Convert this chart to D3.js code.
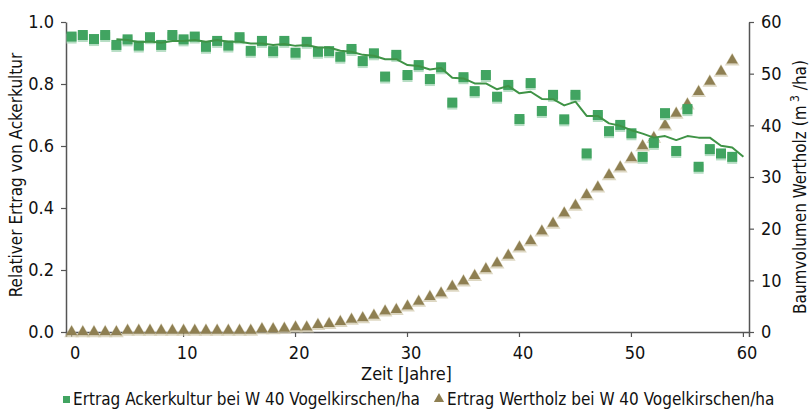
<!DOCTYPE html>
<html>
<head>
<meta charset="utf-8">
<script src="https://cdn.jsdelivr.net/npm/d3@7"></script>
<style>
  body { margin: 0; background: #fff; }
  svg text { font-family: "Liberation Sans Narrow", "DejaVu Sans Condensed", "Arial Narrow", sans-serif; fill: #111; }
</style>
</head>
<body>
<div id="chart"></div>
<script>
// Ertrag Ackerkultur (relativ), Jahre 0..59
const ertragAcker = [0.953, 0.958, 0.945, 0.958, 0.926, 0.944, 0.924, 0.951, 0.926, 0.958,
  0.944, 0.953, 0.920, 0.939, 0.924, 0.951, 0.907, 0.939, 0.906, 0.939,
  0.901, 0.936, 0.904, 0.906, 0.888, 0.913, 0.874, 0.899, 0.824, 0.894,
  0.829, 0.861, 0.816, 0.854, 0.740, 0.822, 0.777, 0.829, 0.759, 0.797,
  0.687, 0.803, 0.713, 0.765, 0.686, 0.765, 0.576, 0.700, 0.648, 0.668,
  0.641, 0.565, 0.610, 0.706, 0.584, 0.719, 0.533, 0.590, 0.576, 0.565]

// gleitender Durchschnitt (Linie), Jahre 4..60
const trendStart = 4
const trendAcker = [0.944, 0.942, 0.935, 0.937, 0.933, 0.939, 0.939, 0.942, 0.936, 0.942,
  0.936, 0.936, 0.931, 0.931, 0.926, 0.929, 0.923, 0.926, 0.918, 0.918,
  0.907, 0.904, 0.894, 0.891, 0.880, 0.880, 0.861, 0.858, 0.847, 0.852,
  0.820, 0.818, 0.802, 0.802, 0.783, 0.794, 0.770, 0.775, 0.752, 0.751,
  0.731, 0.743, 0.697, 0.697, 0.673, 0.665, 0.651, 0.640, 0.627, 0.632,
  0.619, 0.632, 0.627, 0.627, 0.601, 0.595, 0.565]

// Baumvolumen Wertholz (m3/ha), Jahre 0..59
const wertholz = [0, 0, 0, 0, 0, 0.3, 0.3, 0.3, 0.3, 0.3,
  0.3, 0.3, 0.3, 0.3, 0.3, 0.3, 0.3, 0.6, 0.6, 0.7,
  0.9, 0.9, 1.4, 1.6, 2.0, 2.4, 2.7, 3.2, 4.0, 4.3,
  5.0, 5.9, 6.8, 7.5, 8.8, 9.8, 10.9, 12.2, 13.3, 14.8,
  16.4, 17.6, 19.5, 21.0, 23.0, 24.5, 26.5, 28.0, 30.4, 31.9,
  33.7, 36.0, 37.6, 40.0, 42.3, 44.1, 46.5, 48.5, 50.4, 52.6]

const xTicks = [0, 10, 20, 30, 40, 50, 60]
const yLeftTicks = [0, 0.2, 0.4, 0.6, 0.8, 1.0]
const yRightTicks = [0, 10, 20, 30, 40, 50, 60]

const width = 810, height = 414
const margin = ({top: 22, right: 61, bottom: 82, left: 66})

const green = "#41a461"
const lineGreen = "#3f9346"
const olive = "#8e7f52"
const axisColor = "#555"

const svg = d3.select("#chart").append("svg")
  .attr("width", width)
  .attr("height", height)

// category axis, points sit between tick marks
const x = d3.scaleBand()
  .domain(d3.range(61))
  .range([margin.left, width - margin.right])
  .paddingInner(0).paddingOuter(0)
const bw = x.bandwidth()
const cx = i => x(i) + bw / 2

const yL = d3.scaleLinear().domain([0, 1]).range([height - margin.bottom, margin.top])
const yR = d3.scaleLinear().domain([0, 60]).range([height - margin.bottom, margin.top])

// Axes
const xAxis = svg.append("g")
  .attr("transform", `translate(0, ${height - margin.bottom})`)
  .call(d3.axisBottom(x).tickValues(xTicks).tickSizeOuter(0).tickSize(5).tickFormat(d3.format("d")))
xAxis.selectAll("text").attr("x", bw / 2 - 2).attr("dy", "1.05em")

const yAxisL = svg.append("g")
  .attr("transform", `translate(${margin.left}, 0)`)
  .call(d3.axisLeft(yL).tickValues(yLeftTicks).tickSize(5).tickSizeOuter(0).tickFormat(d3.format(".1f")))
yAxisL.selectAll("text").attr("x", -12)

const yAxisR = svg.append("g")
  .attr("transform", `translate(${width - margin.right}, 0)`)
  .call(d3.axisRight(yR).tickValues(yRightTicks).tickSize(5).tickSizeOuter(0).tickFormat(d3.format("d")))
yAxisR.selectAll("text").attr("x", 12)

svg.selectAll(".domain").attr("stroke", axisColor).attr("stroke-width", 1.5)
svg.selectAll(".tick line").attr("stroke", axisColor).attr("stroke-width", 1.2)
svg.selectAll(".tick text").attr("font-size", 18).attr("fill", "#111")
  .style("font-family", '"Liberation Sans Narrow", "DejaVu Sans Condensed", sans-serif')

// Axis titles
svg.append("text")
  .attr("transform", `translate(22, ${(yL(0) + yL(1)) / 2 - 2}) rotate(-90)`)
  .attr("text-anchor", "middle")
  .attr("font-size", 17)
  .text("Relativer Ertrag von Ackerkultur")

const rTitle = svg.append("text")
  .attr("transform", `translate(806, ${(yR(0) + yR(60)) / 2 + 10}) rotate(-90)`)
  .attr("text-anchor", "middle")
  .attr("font-size", 17)
rTitle.append("tspan").text("Baumvolumen Wertholz (m")
rTitle.append("tspan").attr("dy", -7).attr("font-size", 12).text(" 3")
rTitle.append("tspan").attr("dy", 7).text(" /ha)")

svg.append("text")
  .attr("x", (margin.left + width - margin.right) / 2 - 1)
  .attr("y", 380)
  .attr("text-anchor", "middle")
  .attr("font-size", 18)
  .text("Zeit [Jahre]")

// Triangles (Wertholz, right axis)
const tri = d3.symbol().type(d3.symbolTriangle).size(55)
const triG = svg.append("g")
triG.selectAll("path.halo")
  .data(wertholz)
  .join("path")
    .attr("class", "halo")
    .attr("d", tri)
    .attr("transform", (d, i) => `translate(${cx(i)}, ${yR(d) + 1})`)
    .attr("fill", "none")
    .attr("stroke", "#cfc6a8")
    .attr("stroke-width", 2)
    .attr("opacity", 0.7)
triG.selectAll("path.mark")
  .data(wertholz)
  .join("path")
    .attr("class", "mark")
    .attr("d", tri)
    .attr("transform", (d, i) => `translate(${cx(i)}, ${yR(d)})`)
    .attr("fill", olive)

// Squares (Ackerkultur, left axis)
const sq = 10
const sqG = svg.append("g")
sqG.selectAll("rect.shadow")
  .data(ertragAcker)
  .join("rect")
    .attr("class", "shadow")
    .attr("x", (d, i) => cx(i) - sq / 2)
    .attr("y", d => yL(d) - sq / 2 + 2)
    .attr("width", sq)
    .attr("height", sq)
    .attr("fill", "#b7dec4")
sqG.selectAll("rect.mark")
  .data(ertragAcker)
  .join("rect")
    .attr("class", "mark")
    .attr("x", (d, i) => cx(i) - sq / 2)
    .attr("y", d => yL(d) - sq / 2)
    .attr("width", sq)
    .attr("height", sq)
    .attr("fill", green)

// moving average line
const line = d3.line()
  .x((d, i) => cx(i + trendStart))
  .y(d => yL(d))
svg.append("path")
  .datum(trendAcker)
  .attr("d", line)
  .attr("fill", "none")
  .attr("stroke", lineGreen)
  .attr("stroke-width", 2)
  .attr("stroke-linejoin", "round")

// Legend
const legend = svg.append("g").attr("transform", "translate(0, 405)")
legend.append("rect")
  .attr("x", 63).attr("y", -9).attr("width", 7).attr("height", 7)
  .attr("fill", green)
legend.append("text")
  .attr("x", 73).attr("y", 0)
  .attr("font-size", 17)
  .text("Ertrag Ackerkultur bei W 40 Vogelkirschen/ha")
legend.append("path")
  .attr("d", d3.symbol().type(d3.symbolTriangle).size(45))
  .attr("transform", "translate(439, -6)")
  .attr("fill", olive)
legend.append("text")
  .attr("x", 447).attr("y", 0)
  .attr("font-size", 17)
  .text("Ertrag Wertholz bei W 40 Vogelkirschen/ha")
</script>
</body>
</html>
